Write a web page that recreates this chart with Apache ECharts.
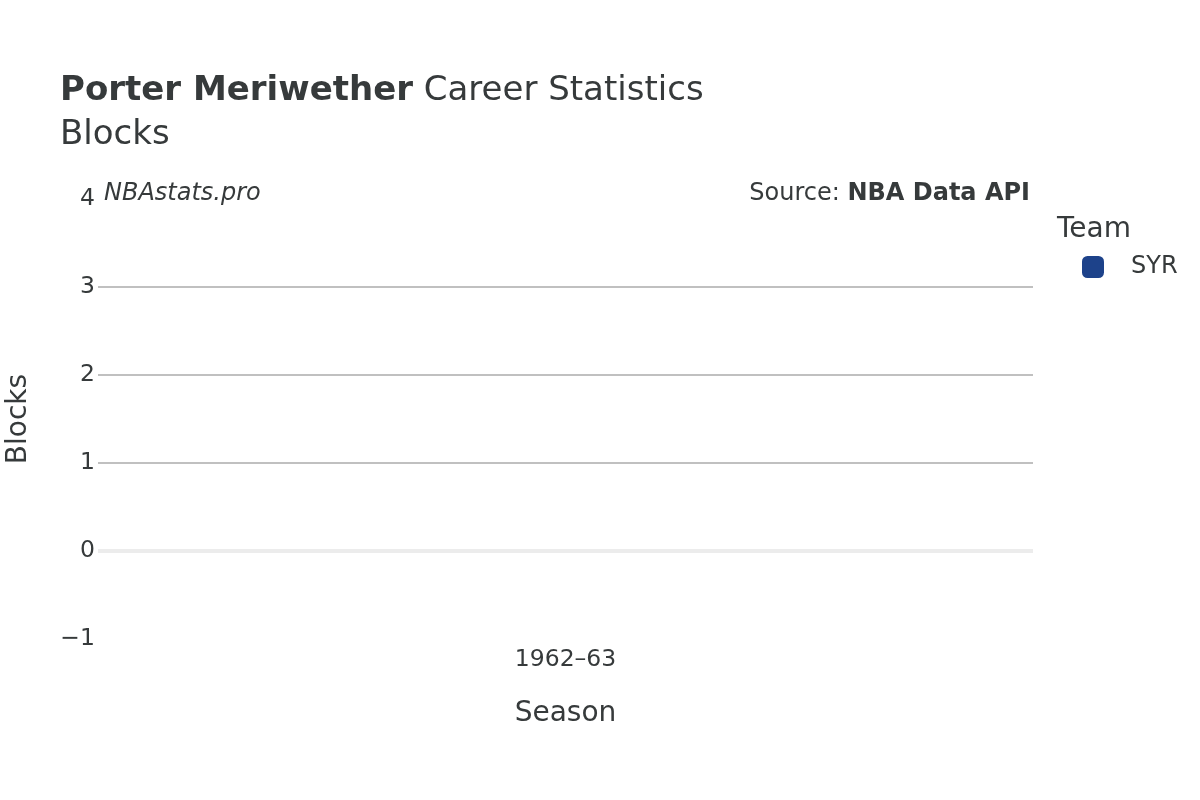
<!DOCTYPE html>
<html>
<head>
<meta charset="utf-8">
<script src="https://cdn.jsdelivr.net/npm/echarts@6/dist/echarts.min.js"></script>
<style>
  html, body { margin: 0; padding: 0; background: #fff; }
  #chart { width: 1200px; height: 800px; }
</style>
</head>
<body>
<div id="chart"></div>
<script>
// chart values
var seasons = ['1962–63'];
var blocks = [0];
var team = 'SYR';
var teamColor = '#1d428a';
var yTicks = [-1, 0, 1, 2, 3, 4];

var font = '"DejaVu Sans", sans-serif';
var textColor = '#363a3b';

var chart = echarts.init(document.getElementById('chart'));

chart.setOption({
    backgroundColor: '#fff',
    textStyle: { fontFamily: font, color: textColor },
    title: [
        {
            text: '{b|Porter Meriwether} {n|Career Statistics}',
            left: 60, top: 74, padding: 0,
            textStyle: {
                fontWeight: 'normal',
                rich: {
                    b: { fontFamily: font, fontSize: 34, fontWeight: 'bold', color: textColor },
                    n: { fontFamily: font, fontSize: 34, fontWeight: 'normal', color: textColor, padding: [0, 0, 0, 5] }
                }
            }
        },
        {
            text: 'Blocks',
            left: 60, top: 118, padding: 0,
            textStyle: { fontFamily: font, fontSize: 34, fontWeight: 'normal', color: textColor }
        },
        {
            text: 'NBAstats.pro',
            left: 104, top: 182, padding: 0,
            textStyle: { fontFamily: font, fontSize: 24, fontStyle: 'italic', fontWeight: 'normal', color: textColor }
        },
        {
            text: 'Source: {b|NBA Data API}',
            right: 170, top: 182, padding: 0,
            textStyle: {
                fontFamily: font, fontSize: 24, fontWeight: 'normal', color: textColor,
                rich: { b: { fontFamily: font, fontSize: 24, fontWeight: 'bold', color: textColor } }
            }
        },
        {
            text: 'Team',
            left: 1057, top: 216, padding: 0,
            textStyle: { fontFamily: font, fontSize: 28, fontWeight: 'normal', color: textColor }
        }
    ],
    legend: {
        data: [team],
        left: 1082, top: 255, padding: 0,
        icon: 'roundRect',
        itemWidth: 22, itemHeight: 22,
        textStyle: { fontFamily: font, fontSize: 24, color: textColor, padding: [3, 0, 0, 22] }
    },
    grid: { left: 98, right: 167, top: 199, bottom: 161, outerBoundsMode: 'none', containLabel: false },
    xAxis: {
        type: 'category',
        data: seasons,
        name: 'Season',
        nameLocation: 'middle',
        nameGap: 61,
        nameTextStyle: { fontFamily: font, fontSize: 28, color: textColor },
        axisLine: { show: false },
        axisTick: { show: false },
        axisLabel: { fontFamily: font, fontSize: 23.5, color: textColor, margin: 9 }
    },
    yAxis: {
        type: 'value',
        min: yTicks[0],
        max: yTicks[yTicks.length - 1],
        interval: 1,
        name: 'Blocks',
        nameLocation: 'middle',
        nameRotate: 90,
        nameGap: 65,
        nameTextStyle: { fontFamily: font, fontSize: 28, color: textColor },
        axisLine: { show: false },
        axisTick: { show: false },
        axisLabel: {
            fontFamily: font, fontSize: 23.5, color: textColor, margin: 3,
            padding: [4, 0, 0, 0],
            formatter: function (v) { return v < 0 ? '\u2212' + Math.abs(v) : String(v); }
        },
        splitLine: { showMinLine: false, showMaxLine: false, lineStyle: { color: '#c0c0c0', width: 2 } }
    },
    series: [
        {
            name: team,
            type: 'bar',
            data: blocks,
            barWidth: '80%',
            itemStyle: { color: teamColor },
            markLine: {
                silent: true,
                symbol: 'none',
                label: { show: false },
                lineStyle: { color: '#ececec', width: 4, type: 'solid' },
                data: [{ yAxis: 0 }]
            }
        }
    ]
});
</script>
</body>
</html>
